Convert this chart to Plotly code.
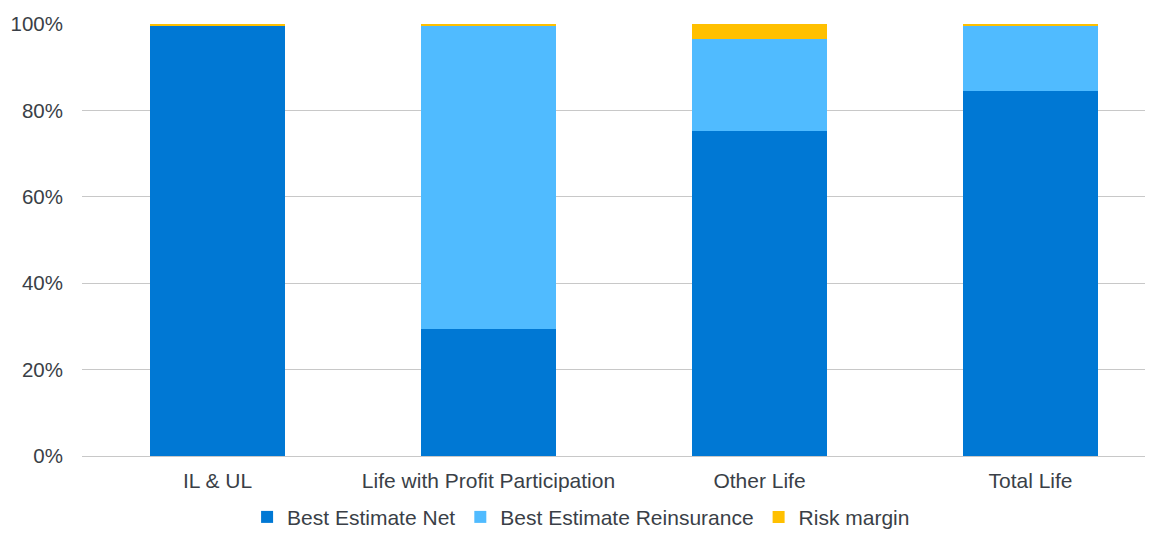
import plotly.graph_objects as go

categories = ["IL & UL", "Life with Profit Participation", "Other Life", "Total Life"]
best_estimate_net = [0.997, 0.294, 0.753, 0.845]
best_estimate_reins = [0.0, 0.702, 0.212, 0.152]
risk_margin = [0.003, 0.004, 0.035, 0.003]
y_ticks = [0, 0.2, 0.4, 0.6, 0.8, 1.0]
y_tick_labels = ["0%", "20%", "40%", "60%", "80%", "100%"]

series = [
    ("Best Estimate Net", best_estimate_net, "#0078D4"),
    ("Best Estimate Reinsurance", best_estimate_reins, "#50BBFF"),
    ("Risk margin", risk_margin, "#FFC000"),
]

fig = go.Figure()
for name, vals, color in series:
    fig.add_trace(go.Bar(x=categories, y=vals, name=name, marker=dict(color=color, line=dict(width=0))))

font_color = "#3a3f47"
fig.update_layout(
    barmode="stack",
    bargap=0.5,
    width=1145,
    height=525,
    margin=dict(l=74, r=0, t=16, b=77, autoexpand=False),
    paper_bgcolor="white",
    plot_bgcolor="white",
    font=dict(family="Liberation Sans, Arial, sans-serif", size=21, color=font_color),
    showlegend=True,
    legend=dict(
        orientation="h",
        x=0.466,
        xanchor="center",
        yref="container",
        y=0.03,
        yanchor="middle",
        font=dict(size=21, color=font_color),
        traceorder="normal",
    ),
    xaxis=dict(
        range=[-0.5, 3.452],
        showgrid=False,
        showline=False,
        ticks="",
        ticklabelstandoff=10,
        tickfont=dict(size=21, color=font_color),
    ),
    yaxis=dict(
        range=[0, 1],
        tickvals=y_ticks,
        ticktext=y_tick_labels,
        showgrid=True,
        gridcolor="#c8c8c8",
        gridwidth=1,
        zeroline=True,
        zerolinecolor="#c8c8c8",
        zerolinewidth=1,
        ticks="",
        ticklabelstandoff=18,
        tickfont=dict(size=20.5, color=font_color),
    ),
)

fig.write_html("out.html")
